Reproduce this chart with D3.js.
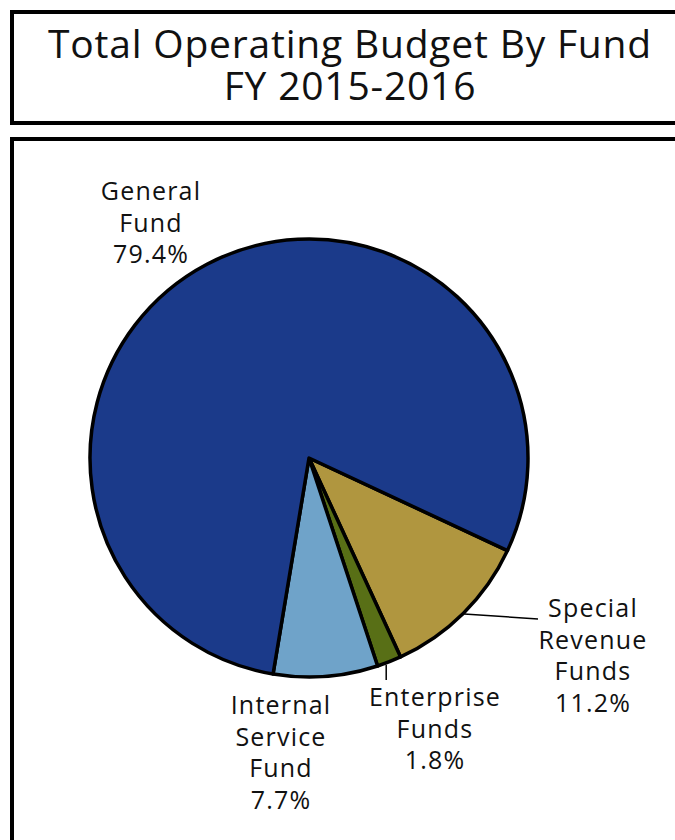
<!DOCTYPE html>
<html>
<head>
<meta charset="utf-8">
<script src="https://cdn.jsdelivr.net/npm/d3@7"></script>
<style>
  body { margin: 0; background: #fff; }
  text { font-family: "Open Sans", sans-serif; fill: #111; }
</style>
</head>
<body>
<div id="chart"></div>
<script>
// data
var funds = ["Special Revenue Funds", "Enterprise Funds", "Internal Service Fund", "General Fund"];
var shares = [11.2, 1.8, 7.7, 79.4];
var colors = ["#b0963f", "#586f16", "#6fa3c9", "#1b3a8a"];
var labelLines = [
    ["Special", "Revenue", "Funds", "11.2%"],
    ["Enterprise", "Funds", "1.8%"],
    ["Internal", "Service", "Fund", "7.7%"],
    ["General", "Fund", "79.4%"]
];

var width = 675, height = 840;

var svg = d3.select("#chart")
    .append("svg")
    .attr("width", width)
    .attr("height", height);

// title box
svg.append("rect")
    .attr("x", 12).attr("y", 12)
    .attr("width", 700).attr("height", 111)
    .style("fill", "none")
    .style("stroke", "#000")
    .style("stroke-width", 4);

svg.append("text")
    .attr("x", 350).attr("y", 58)
    .attr("text-anchor", "middle")
    .style("font-size", "39px")
    .style("letter-spacing", "0.8px")
    .text("Total Operating Budget By Fund");

svg.append("text")
    .attr("x", 350).attr("y", 100)
    .attr("text-anchor", "middle")
    .style("font-size", "39px")
    .style("letter-spacing", "0.8px")
    .text("FY 2015-2016");

// chart box
svg.append("rect")
    .attr("x", 12).attr("y", 139)
    .attr("width", 700).attr("height", 760)
    .style("fill", "none")
    .style("stroke", "#000")
    .style("stroke-width", 4);

var cx = 309, cy = 458, r = 219;

var pie = d3.pie()
    .sort(null)
    .value(d => d)
    .startAngle(115 * Math.PI / 180)
    .endAngle(115 * Math.PI / 180 + 2 * Math.PI);

var arc = d3.arc().innerRadius(0).outerRadius(r);

var g = svg.append("g")
    .attr("transform", "translate(" + cx + "," + cy + ")");

var arcs = pie(shares);

g.selectAll("path")
    .data(arcs)
    .enter()
    .append("path")
    .attr("d", arc)
    .style("fill", (d, i) => colors[i])
    .style("stroke", "#000")
    .style("stroke-width", 3.5)
    .style("stroke-linejoin", "round");

// label positions (relative to pie center)
var labelPos = [
    { x: 284, y: 159 },
    { x: 126, y: 248 },
    { x: -28, y: 256 },
    { x: -158, y: -258 }
];

// leader lines
var lineGen = d3.line();
var mid0 = (arcs[0].startAngle + arcs[0].endAngle) / 2;
var p0 = [Math.sin(mid0) * (r + 1), -Math.cos(mid0) * (r + 1)];
g.append("path")
    .attr("d", lineGen([p0, [229, 161]]))
    .style("fill", "none")
    .style("stroke", "#000")
    .style("stroke-width", 1.5);

var mid1 = (arcs[1].startAngle + arcs[1].endAngle) / 2;
var p1 = [Math.sin(mid1) * r - 3, -Math.cos(mid1) * r];
g.append("path")
    .attr("d", lineGen([[p1[0], p1[1] + 3], [p1[0], 222]]))
    .style("fill", "none")
    .style("stroke", "#000")
    .style("stroke-width", 1.5);

labelLines.forEach(function (lines, i) {
    var t = g.append("text")
        .attr("text-anchor", "middle")
        .style("font-size", "25px")
        .style("letter-spacing", "1.2px");
    lines.forEach(function (line, j) {
        t.append("tspan")
            .attr("x", labelPos[i].x)
            .attr("y", labelPos[i].y + j * 31.5)
            .text(line);
    });
});
</script>
</body>
</html>
